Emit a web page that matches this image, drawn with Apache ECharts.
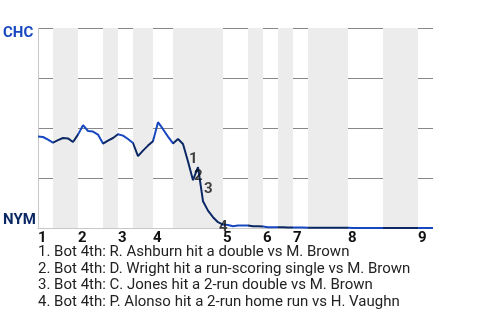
<!DOCTYPE html>
<html>
<head>
<meta charset="utf-8">
<script src="https://cdn.jsdelivr.net/npm/echarts@6/dist/echarts.min.js"></script>
<style>html,body{margin:0;padding:0;background:#fff}#c{width:480px;height:320px}</style>
</head>
<body>
<div id="c"></div>
<script>
// ---- data ----
const inningLabels = ['1','2','3','4','5','6','7','8','9'];
const inningStart = [0, 8, 16, 23, 37, 45, 51, 62, 76];
const bottomHalfStart = [3, 13, 19, 27, 42, 48, 54, 69];
const lastEvent = 79;
const teamLabels = ['NYM', 'CHC']; // bottom (0), top (100)
// CHC win probability (%) after each plate appearance
const chcWinPct = [
  45.8, 45.5, 44.2, 42.7, 43.9, 45.0, 44.8, 43.0, 46.7, 51.4,
  48.5, 48.2, 46.7, 42.2, 43.7, 45.0, 46.9, 46.2, 44.5, 42.5,
  35.9, 38.7, 41.2, 43.4, 52.9, 49.4, 45.7, 42.3, 44.5, 42.0,
  33.2, 23.9, 30.4, 13.4, 8.7, 5.4, 2.9, 1.7, 1.5, 0.9,
  1.3, 1.3, 1.2, 0.9, 0.9, 0.8, 0.4, 0.4, 0.4, 0.4,
  0.3, 0.3, 0.3, 0.3, 0.1, 0.1, 0.1, 0.1, 0.1, 0.1,
  0.1, 0.1, 0.1, 0, 0, 0, 0, 0, 0, 0,
  0, 0, 0, 0, 0, 0, 0, 0, 0, 0
];
const eventIdx = [30, 31, 33, 36];
const eventText = [
  '1. Bot 4th: R. Ashburn hit a double vs M. Brown',
  '2. Bot 4th: D. Wright hit a run-scoring single vs M. Brown',
  '3. Bot 4th: C. Jones hit a 2-run double vs M. Brown',
  '4. Bot 4th: P. Alonso hit a 2-run home run vs H. Vaughn'
];

// ---- styles ----
const CHC_COLOR = '#1848c0';
const NYM_COLOR = '#0b2865';
const BAND_COLOR = '#ececec';
const labelOffsets = [[0, -2.5], [0, -4], [0, -11.5], [0, 5.5]];

const lineData = chcWinPct.map((v, i) => [i, v]);
const bands = bottomHalfStart.map((s, k) => [{xAxis: s}, {xAxis: inningStart[k + 1]}]);

const pieces = [];
inningStart.forEach((s, k) => {
  const b = bottomHalfStart[k];
  const e = k + 1 < inningStart.length ? inningStart[k + 1] : lastEvent + 1;
  if (b !== undefined) {
    pieces.push({gte: s, lt: b, color: CHC_COLOR});
    pieces.push({gte: b, lt: e, color: NYM_COLOR});
  } else {
    pieces.push({gte: s, lte: e, color: CHC_COLOR});
  }
});

const chart = echarts.init(document.getElementById('c'), null, {renderer: 'canvas'});
chart.setOption({
  animation: false,
  grid: {left: 37, right: 47, top: 28, height: 200},
  xAxis: {
    type: 'value', min: 0, max: lastEvent,
    axisLine: {show: true, lineStyle: {color: '#c8c8c8', width: 1}},
    axisTick: {show: false},
    splitLine: {show: false},
    axisLabel: {
      customValues: inningStart,
      formatter: v => inningLabels[inningStart.indexOf(v)],
      align: 'left', margin: 3,
      color: '#111', fontWeight: 'bold', fontSize: 15, fontFamily: 'Roboto'
    }
  },
  yAxis: {
    type: 'value', min: 0, max: 100, interval: 25,
    axisLine: {show: true, lineStyle: {color: '#c8c8c8'}},
    axisTick: {show: false},
    splitLine: {show: true, showMinLine: false, lineStyle: {color: '#888', width: 1}},
    axisLabel: {
      align: 'left', margin: 35,
      formatter: v => v === 100 ? '{t|' + teamLabels[1] + '}' : (v === 0 ? '{b|' + teamLabels[0] + '}' : ''),
      rich: {
        t: {color: CHC_COLOR, fontWeight: 'bold', fontSize: 15, fontFamily: 'Roboto', padding: [11, 0, 0, 0]},
        b: {color: NYM_COLOR, fontWeight: 'bold', fontSize: 15, fontFamily: 'Roboto', padding: [0, 0, 15, 0]}
      }
    }
  },
  visualMap: {
    type: 'piecewise', show: false, dimension: 0, seriesIndex: 1,
    pieces: pieces
  },
  series: [
    {
      type: 'line', data: [], silent: true, z: 1,
      markArea: {silent: true, itemStyle: {color: BAND_COLOR}, data: bands}
    },
    {
      type: 'line', data: lineData, showSymbol: false, symbol: 'none',
      lineStyle: {width: 2}, z: 3
    },
    {
      type: 'scatter', symbolSize: 0, z: 5,
      data: eventIdx.map((idx, k) => ({
        value: [idx, chcWinPct[idx]],
        label: {offset: labelOffsets[k]}
      })),
      label: {
        show: true, position: 'right', distance: 1,
        formatter: p => String(p.dataIndex + 1),
        color: '#111', fontWeight: 'bold', fontSize: 15, fontFamily: 'Roboto'
      }
    }
  ],
  graphic: [{
    type: 'text', left: 38, top: 244,
    style: {
      text: eventText.join('\n'),
      font: '15px Roboto', lineHeight: 16.6, fill: '#222'
    }
  }]
});
</script>
</body>
</html>
